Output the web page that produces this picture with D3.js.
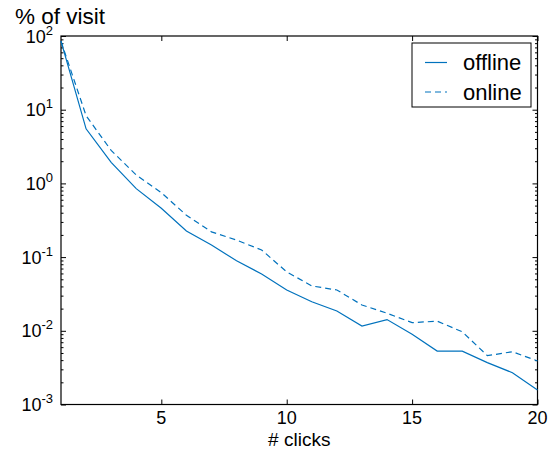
<!DOCTYPE html>
<html>
<head>
<meta charset="utf-8">
<script src="https://cdn.jsdelivr.net/npm/d3@7"></script>
<style>
  body { margin: 0; background: #fff; }
  text { font-family: "Liberation Sans", Arial, sans-serif; fill: #000; }
</style>
</head>
<body>
<div id="chart"></div>
<script>
// number of clicks (x) and share of visits in % (y, log scale)
var clicks = [1, 2, 3, 4, 5, 6, 7, 8, 9, 10, 11, 12, 13, 14, 15, 16, 17, 18, 19, 20];
var offline = [85, 5.5, 1.93, 0.85, 0.46, 0.226, 0.146, 0.089, 0.059, 0.0358,
               0.0248, 0.0186, 0.0116, 0.0142, 0.0090, 0.0053, 0.0053, 0.0037, 0.0027, 0.00157];
var online = [85, 8.3, 2.8, 1.3, 0.75, 0.37, 0.22, 0.17, 0.125, 0.063,
              0.0406, 0.0358, 0.0224, 0.0173, 0.0129, 0.0135, 0.0097, 0.0046, 0.0052, 0.0039];
var xTicks = [5, 10, 15, 20];
var yTicks = [-3, -2, -1, 0, 1, 2]; // exponents of 10

var W = 557, H = 453;
var margin = {left: 61, top: 36, right: 19.5, bottom: 48.5};
var width = W - margin.left - margin.right;
var height = H - margin.top - margin.bottom;
var blue = '#0072bd';

var svg = d3.select('#chart').append('svg')
    .attr('width', W)
    .attr('height', H);

var chart = svg.append('g')
    .attr('transform', `translate(${margin.left}, ${margin.top})`);

var xScale = d3.scaleLinear().domain([1, 20]).range([0, width]);
var yScale = d3.scaleLog().domain([1e-3, 1e2]).range([height, 0]);

// minor ticks 2..9 within each decade
var minor = [];
yTicks.slice(0, -1).forEach(function (e) {
    for (var k = 2; k <= 9; k++) minor.push(k * Math.pow(10, e));
});

// ticks point inward on all four sides
chart.append('g')
    .attr('transform', `translate(0, ${height})`)
    .call(d3.axisBottom(xScale).tickValues(xTicks).tickSizeInner(-5).tickSizeOuter(0).tickFormat(''));
chart.append('g')
    .call(d3.axisTop(xScale).tickValues(xTicks).tickSizeInner(-5).tickSizeOuter(0).tickFormat(''));
chart.append('g')
    .call(d3.axisLeft(yScale).tickValues(yTicks.map((e) => Math.pow(10, e))).tickSizeInner(-5).tickSizeOuter(0).tickFormat(''));
chart.append('g')
    .call(d3.axisLeft(yScale).tickValues(minor).tickSizeInner(-2.5).tickSizeOuter(0).tickFormat(''));
chart.append('g')
    .attr('transform', `translate(${width}, 0)`)
    .call(d3.axisRight(yScale).tickValues(yTicks.map((e) => Math.pow(10, e))).tickSizeInner(-5).tickSizeOuter(0).tickFormat(''));
chart.append('g')
    .attr('transform', `translate(${width}, 0)`)
    .call(d3.axisRight(yScale).tickValues(minor).tickSizeInner(-2.5).tickSizeOuter(0).tickFormat(''));

chart.selectAll('.domain').remove();
chart.selectAll('.tick line').attr('stroke', '#000').attr('stroke-width', 1);

// box
chart.append('rect')
    .attr('x', 0).attr('y', 0)
    .attr('width', width).attr('height', height)
    .attr('fill', 'none')
    .attr('stroke', '#000')
    .attr('stroke-width', 1.2);

// tick labels
chart.selectAll('.xlab')
    .data(xTicks)
    .enter()
    .append('text')
    .attr('class', 'xlab')
    .attr('x', (d) => xScale(d))
    .attr('y', height + 19)
    .attr('text-anchor', 'middle')
    .style('font-size', '18px')
    .text((d) => d);

var ylab = chart.selectAll('.ylab')
    .data(yTicks)
    .enter()
    .append('text')
    .attr('class', 'ylab')
    .attr('x', -8)
    .attr('y', (d) => yScale(Math.pow(10, d)) + 6.5)
    .attr('text-anchor', 'end')
    .style('font-size', '18px');
ylab.append('tspan').text('10');
ylab.append('tspan')
    .attr('dy', -8)
    .style('font-size', '13px')
    .text((d) => d);

// lines
var line = d3.line()
    .x((d) => xScale(d[0]))
    .y((d) => yScale(d[1]));

chart.append('path')
    .datum(clicks.map((c, i) => [c, offline[i]]))
    .attr('d', line)
    .attr('fill', 'none')
    .attr('stroke', blue)
    .attr('stroke-width', 1.2);

chart.append('path')
    .datum(clicks.map((c, i) => [c, online[i]]))
    .attr('d', line)
    .attr('fill', 'none')
    .attr('stroke', blue)
    .attr('stroke-width', 1.2)
    .attr('stroke-dasharray', '6,4');

// axis titles
svg.append('text')
    .attr('x', margin.left + width / 2)
    .attr('y', 446)
    .attr('text-anchor', 'middle')
    .style('font-size', '19px')
    .text('# clicks');

svg.append('text')
    .attr('x', 15)
    .attr('y', 24)
    .style('font-size', '22.5px')
    .text('% of visit');

// legend
var legend = svg.append('g').attr('transform', 'translate(412, 43)');
legend.append('rect')
    .attr('width', 119).attr('height', 64)
    .attr('fill', '#fff')
    .attr('stroke', '#000')
    .attr('stroke-width', 1);

var series = [{name: 'offline', dash: null}, {name: 'online', dash: '6,4'}];
series.forEach(function (s, i) {
    var y = 19.5 + i * 29.5;
    legend.append('line')
        .attr('x1', 13).attr('x2', 35)
        .attr('y1', y).attr('y2', y)
        .attr('stroke', blue)
        .attr('stroke-width', 1.2)
        .attr('stroke-dasharray', s.dash);
    legend.append('text')
        .attr('x', 51)
        .attr('y', y + 7.5)
        .style('font-size', '22px')
        .text(s.name);
});
</script>
</body>
</html>
